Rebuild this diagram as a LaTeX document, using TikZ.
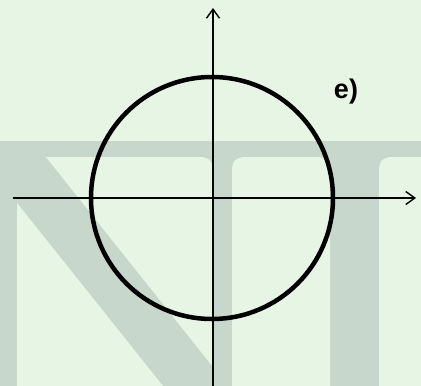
\documentclass[tikz,border=0pt]{standalone}
\usepackage{fontspec}
\setmainfont{Liberation Sans}
\usetikzlibrary{arrows.meta}
\definecolor{paper}{HTML}{E7F6E4}
\definecolor{wmark}{HTML}{C8D7CB}
\begin{document}
\begin{tikzpicture}[x=1pt,y=-1pt,
  axis/.style={line width=1.4pt,-{Straight Barb[length=9pt,width=13pt,line width=1.4pt]}},
  curve/.style={line width=4.5pt},
  elabel/.style={inner sep=0pt}]
\fill[paper] (0,0) rectangle (421,386);
\useasboundingbox (0,0) rectangle (421,386);
% watermark
\fill[wmark] (0,141) rectangle (421,386);
\fill[paper] (17,203) -- (163,386) -- (17,386) -- cycle;
\fill[paper] (46,157) -- (199,157) .. controls (209,157) and (213,161) .. (213,171) -- (213,367) -- cycle;
\fill[paper] (232,386) -- (232,171) .. controls (232,161) and (236,157) .. (246,157) -- (316,157) .. controls (326,157) and (330,161) .. (330,171) -- (330,386) -- cycle;
\fill[paper] (379,386) -- (379,171) .. controls (379,161) and (383,157) .. (393,157) -- (421,157) -- (421,386) -- cycle;
% axes
\coordinate (xs) at (13,198);
\coordinate (xe) at (416,198);
\coordinate (ys) at (213,386);
\coordinate (ye) at (213,8);
\draw[axis] (xs) -- (xe);
\draw[axis] (ys) -- (ye);
% circle
\coordinate (o) at (212,198);
\draw[curve] (o) circle[radius=121];
\node[elabel] (lab) at (346,92) {\fontsize{27pt}{30pt}\selectfont\bfseries e)};
\end{tikzpicture}
\end{document}
